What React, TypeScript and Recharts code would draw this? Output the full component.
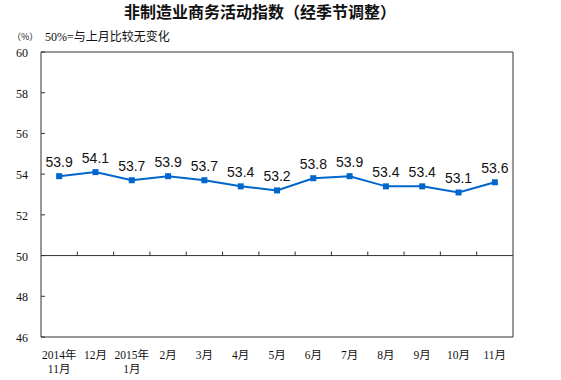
import { LineChart, Line, XAxis, YAxis, ReferenceLine, ReferenceArea, LabelList } from "recharts";

const months = ["2014年\n11月", "12月", "2015年\n1月", "2月", "3月", "4月", "5月", "6月", "7月", "8月", "9月", "10月", "11月"];
const values = [53.9, 54.1, 53.7, 53.9, 53.7, 53.4, 53.2, 53.8, 53.9, 53.4, 53.4, 53.1, 53.6];
const yTicks = [46, 48, 50, 52, 54, 56, 58, 60];

const data = values.map((value, idx) => ({ idx, value }));
const xTicks = months.map((_, i) => i);
const boundaries = months.slice(1).map((_, i) => i + 0.5);

const AXIS = "#333333";
const BLUE = "#0066CC";
const SERIF = "'Liberation Serif', 'Noto Sans CJK SC', serif";

function XTick({ x, y, payload }: any) {
  const lines = months[payload.value].split("\n");
  return (
    <text x={x} y={y} textAnchor="middle" fontSize={11.5} fontFamily={SERIF} fill="#111">
      {lines.map((l, i) => (
        <tspan key={i} x={x} y={y + 20 + i * 14}>
          {l}
        </tspan>
      ))}
    </text>
  );
}

function YTick({ x, y, payload }: any) {
  return (
    <g>
      <line x1={x + 13} x2={x + 17} y1={y} y2={y} stroke={AXIS} />
      <text x={x} y={y + 5} textAnchor="end" fontSize={12} fontFamily={SERIF} fill="#111">
        {payload.value}
      </text>
    </g>
  );
}

function SquareDot({ cx, cy, index }: any) {
  return <rect key={index} x={cx - 3} y={cy - 3} width={6} height={6} fill={BLUE} />;
}

export default function App() {
  return (
    <div style={{ position: "absolute", left: 0, top: 0, width: 561, height: 380, background: "#fff" }}>
      <div
        style={{
          position: "absolute",
          left: 0,
          width: 520,
          top: 2,
          textAlign: "center",
          fontFamily: "'Noto Sans CJK SC', sans-serif",
          fontWeight: 700,
          fontSize: 16,
          lineHeight: "18px",
          color: "#111",
        }}
      >
        非制造业商务活动指数（经季节调整）
      </div>
      <div
        style={{
          position: "absolute",
          left: 12,
          top: 31,
          fontFamily: "'Noto Sans CJK SC', sans-serif",
          fontSize: 9,
          lineHeight: "12px",
          color: "#111",
        }}
      >
        （%）
      </div>
      <div
        style={{
          position: "absolute",
          left: 45,
          top: 30,
          fontFamily: SERIF,
          fontSize: 12,
          lineHeight: "14px",
          color: "#111",
        }}
      >
        50%=与上月比较无变化
      </div>
      <LineChart width={561} height={380} data={data} margin={{ top: 52, right: 48, bottom: 8, left: 11 }}>
        <XAxis
          dataKey="idx"
          type="number"
          domain={[-0.5, 12.5]}
          ticks={xTicks}
          interval={0}
          axisLine={false}
          tickLine={false}
          tickSize={0}
          height={35}
          tick={<XTick />}
        />
        <YAxis
          type="number"
          domain={[46, 60]}
          ticks={yTicks}
          interval={0}
          width={30}
          axisLine={false}
          tickLine={false}
          tickSize={0}
          tickMargin={13}
          tick={<YTick />}
        />
        <ReferenceArea x1={-0.5} x2={12.5} y1={46} y2={60} fill="none" stroke={AXIS} strokeWidth={1} />
        <ReferenceLine y={50} stroke={AXIS} />
        {boundaries.map((b) => (
          <ReferenceLine
            key={b}
            segment={[
              { x: b, y: 50 },
              { x: b, y: 50.2 },
            ]}
            stroke={AXIS}
          />
        ))}
        <Line
          type="linear"
          dataKey="value"
          stroke={BLUE}
          strokeWidth={2}
          dot={<SquareDot />}
          activeDot={false}
          isAnimationActive={false}
        >
          <LabelList
            dataKey="value"
            position="top"
            offset={9}
            fontSize={14}
            fontFamily="'Liberation Sans', Arial, sans-serif"
            fill="#111"
            formatter={(v: any) => Number(v).toFixed(1)}
          />
        </Line>
      </LineChart>
    </div>
  );
}
